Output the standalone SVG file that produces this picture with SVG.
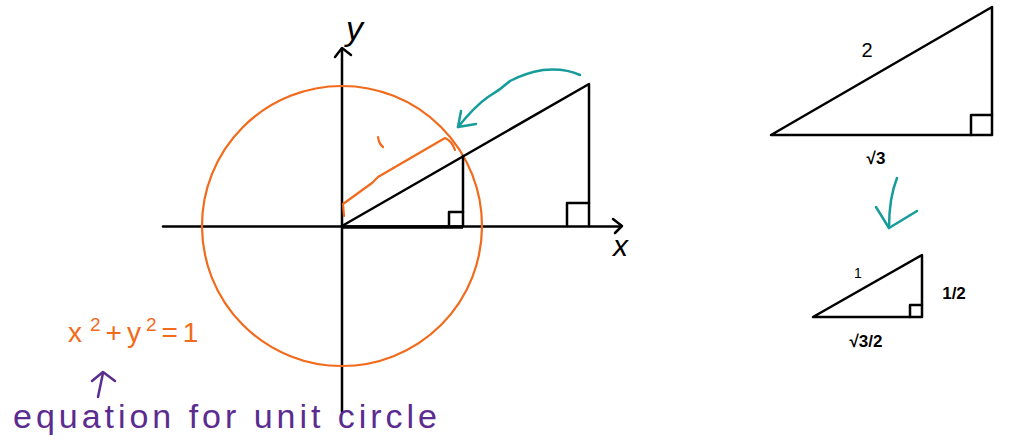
<svg xmlns="http://www.w3.org/2000/svg" width="1010" height="444" viewBox="0 0 1010 444">
<style>
.k{fill:none;stroke:#000;stroke-width:2.5;stroke-linecap:round;stroke-linejoin:round}
.o{fill:none;stroke:#f26a1b;stroke-width:2.2;stroke-linecap:round;stroke-linejoin:round}
.t{fill:none;stroke:#169c9a;stroke-width:2.5;stroke-linecap:round;stroke-linejoin:round}
.p{fill:none;stroke:#5b2c8f;stroke-width:2.5;stroke-linecap:round;stroke-linejoin:round}
.lbl{font-family:"Liberation Sans",Arial,sans-serif;fill:#000}
</style>
<rect width="1010" height="444" fill="#fff"/>
<!-- axes -->
<g id="axes">
<line class="k" x1="342" y1="49" x2="342" y2="412"/>
<polyline class="k" points="335,57 342,48 351,55"/>
<line class="k" x1="163" y1="226.5" x2="621" y2="226.5"/>
<polyline class="k" points="613,219 622,226 615,233"/>
<text class="lbl" x="346" y="40" font-size="34" font-style="italic">y</text>
<text class="lbl" x="613" y="256" font-size="30" font-style="italic">x</text>
</g>
<!-- unit circle -->
<circle class="o" cx="342" cy="226" r="140"/>
<!-- triangles -->
<g id="big-triangle">
<polyline class="k" points="342,226 589,84 589,226"/>
<polyline class="k" points="567,226 567,203 589,203"/>
</g>
<g id="small-triangle">
<line class="k" x1="463" y1="156" x2="463" y2="226"/>
<line x1="342" y1="227" x2="463" y2="227" stroke="#000" stroke-width="3.5"/>
<polyline class="k" points="449,226 449,212 463,212"/>
</g>
<!-- brace -->
<g id="brace">
<path class="o" d="M344,216 L343,204 L372,183 L378,177 L445,138 Q452,141 455,150"/>
<path class="o" d="M378,137 Q379,144 383,147"/>
</g>
<!-- arrows -->
<g id="connectors">
<path class="t" d="M580,75 Q565,68 543,70 Q525,73 510,81 Q500,90 488,97 Q475,106 458,127"/>
<polyline class="t" points="461,111 458,127 476,124"/>
<path class="t" d="M897,178 Q889,198 889,228"/>
<polyline class="t" points="876,207 889,228 917,211"/>
<line class="p" x1="98" y1="397" x2="103" y2="373"/>
<polyline class="p" points="92,381 103,372 115,381"/>
</g>
<!-- right triangles -->
<g id="right-big">
<polygon class="k" points="771,135 992,7 992,135"/>
<polyline class="k" points="971,135 971,115 992,115"/>
<text class="lbl" x="867" y="57" font-size="20" text-anchor="middle">2</text>
<text class="lbl" x="876" y="164" font-size="17" font-weight="bold" text-anchor="middle">√3</text>
</g>
<g id="right-small">
<polygon class="k" points="813,317 922,255 922,317"/>
<polyline class="k" points="910,317 910,305 922,305"/>
<text class="lbl" x="858" y="278" font-size="14" text-anchor="middle">1</text>
<text class="lbl" x="954" y="299" font-size="17" font-weight="bold" text-anchor="middle">1/2</text>
<text class="lbl" x="866" y="347" font-size="17" font-weight="bold" text-anchor="middle">√3/2</text>
</g>
<!-- equation -->
<text x="68" y="342" font-family="Liberation Sans,Arial,sans-serif" font-size="28" letter-spacing="5" fill="#f26a1b">x<tspan dx="3" dy="-11" font-size="19">2</tspan><tspan dy="11">+y</tspan><tspan dy="-11" font-size="19">2</tspan><tspan dy="11">=1</tspan></text>
<text x="13" y="428" font-family="Liberation Sans,Arial,sans-serif" font-size="34" fill="#5b2c8f" textLength="424" lengthAdjust="spacing">equation for unit circle</text>
</svg>
